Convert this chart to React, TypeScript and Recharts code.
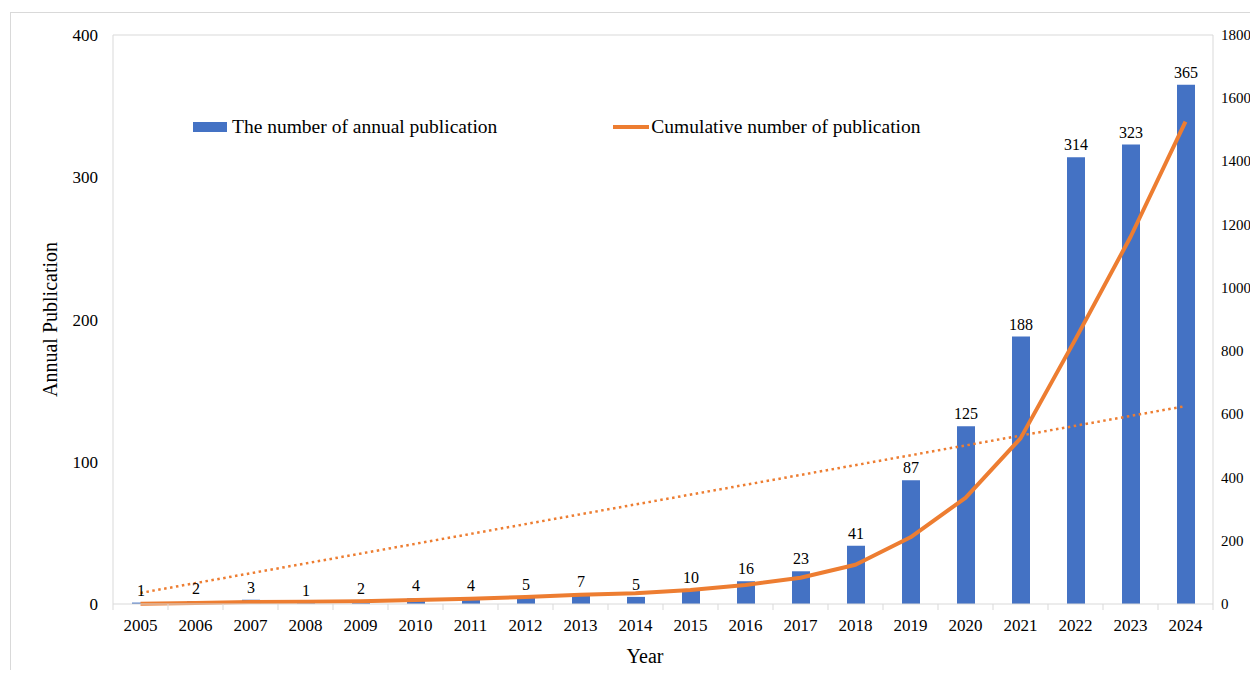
import React from 'react';
import {
  ComposedChart, Bar, Line, XAxis, YAxis, Legend, LabelList, ReferenceLine, Label,
} from 'recharts';

const years = ['2005', '2006', '2007', '2008', '2009', '2010', '2011', '2012', '2013', '2014',
  '2015', '2016', '2017', '2018', '2019', '2020', '2021', '2022', '2023', '2024'];
const annual = [1, 2, 3, 1, 2, 4, 4, 5, 7, 5, 10, 16, 23, 41, 87, 125, 188, 314, 323, 365];
const cumulative = [1, 3, 6, 7, 9, 13, 17, 22, 29, 34, 44, 60, 83, 124, 211, 336, 524, 838, 1161, 1526];
// trendline end points (right axis scale)
const trend: (number | null)[] = [35, null, null, null, null, null, null, null, null, null,
  null, null, null, null, null, null, null, null, null, 626];
const leftTicks = [0, 100, 200, 300, 400];
const rightTicks = [0, 200, 400, 600, 800, 1000, 1200, 1400, 1600, 1800];

const data = years.map((y, i) => ({
  year: y, annual: annual[i], cumulative: cumulative[i], trend: trend[i],
}));

const BLUE = '#4472C4';
const ORANGE = '#ED7D31';
const GRID = '#d9d9d9';
const FONT = '"Liberation Serif", "Times New Roman", serif';
const BAND = 55;

const XTick = (props: any) => {
  const { x, y, payload, index } = props;
  return (
    <g>
      <line x1={x - BAND / 2} x2={x - BAND / 2} y1={y} y2={y + 6} stroke={GRID} />
      {index === years.length - 1 && (
        <line x1={x + BAND / 2} x2={x + BAND / 2} y1={y} y2={y + 6} stroke={GRID} />
      )}
      <text x={x} y={y + 27} textAnchor="middle" fontSize={17} fill="#000" fontFamily={FONT}>
        {payload.value}
      </text>
    </g>
  );
};

const RightTick = (props: any) => {
  const { x, y, payload } = props;
  return (
    <text x={x} y={y} dy={5} textAnchor="start" fontSize={15} fill="#000" fontFamily={FONT}>
      {payload.value}
    </text>
  );
};

const LegendBox = () => (
  <div style={{ display: 'flex', alignItems: 'center', fontFamily: FONT, fontSize: 19.5, color: '#000', whiteSpace: 'nowrap' }}>
    <span style={{ display: 'inline-block', width: 34, height: 10, background: BLUE, marginRight: 5 }} />
    <span>The number of annual publication</span>
    <span style={{ display: 'inline-block', width: 36, height: 4, background: ORANGE, marginLeft: 116, marginRight: 2 }} />
    <span>Cumulative number of publication</span>
  </div>
);

export default function App() {
  return (
    <div style={{ position: 'relative', width: 1250, height: 670, marginBottom: -8, overflow: 'hidden' }}>
      <div style={{
        position: 'absolute', left: 2, top: 4, width: 1400, height: 800,
        border: `1px solid ${GRID}`, boxSizing: 'border-box',
      }} />
      <ComposedChart
        width={1250}
        height={670}
        data={data}
        margin={{ top: 27, right: 0, left: 37, bottom: 14 }}
        barCategoryGap={0}
        style={{ fontFamily: FONT, overflow: 'visible' }}
      >
        <XAxis
          dataKey="year"
          stroke={GRID}
          tickLine={false}
          tickSize={0}
          tickMargin={0}
          tick={<XTick />}
          height={60}
          interval={0}
        >
          <Label value="Year" position="insideBottom" offset={1} dx={-18} fontSize={20} fill="#000" fontFamily={FONT} />
        </XAxis>
        <YAxis
          yAxisId="left"
          domain={[0, 400]}
          ticks={leftTicks}
          width={68}
          stroke={GRID}
          tickLine={false}
          tickSize={0}
          tickMargin={15}
          tick={{ fontSize: 17, fill: '#000', fontFamily: FONT }}
        >
          <Label value="Annual Publication" angle={-90} position="insideLeft" offset={5}
            style={{ textAnchor: 'middle' }} fontSize={20} fill="#000" fontFamily={FONT} />
        </YAxis>
        <YAxis
          yAxisId="right"
          orientation="right"
          domain={[0, 1800]}
          ticks={rightTicks}
          width={45}
          stroke={GRID}
          tickLine={false}
          tickSize={0}
          tickMargin={8}
          tick={<RightTick />}
        />
        <ReferenceLine yAxisId="left" y={400} stroke={GRID} />
        <Legend
          verticalAlign="middle"
          align="center"
          layout="horizontal"
          content={<LegendBox />}
          wrapperStyle={{ position: 'absolute', top: 108, left: 185, width: 'auto' }}
        />
        <Bar yAxisId="left" dataKey="annual" fill={BLUE} barSize={18} isAnimationActive={false}
          name="The number of annual publication">
          <LabelList dataKey="annual" position="top" offset={7} fontSize={16} fill="#000" fontFamily={FONT} />
        </Bar>
        <Line yAxisId="right" dataKey="trend" stroke={ORANGE} strokeWidth={2.5} strokeDasharray="2.5 3.5"
          dot={false} connectNulls isAnimationActive={false} legendType="none" />
        <Line yAxisId="right" type="linear" dataKey="cumulative" stroke={ORANGE} strokeWidth={4}
          strokeLinejoin="round" dot={false} isAnimationActive={false} name="Cumulative number of publication" />
      </ComposedChart>
    </div>
  );
}
